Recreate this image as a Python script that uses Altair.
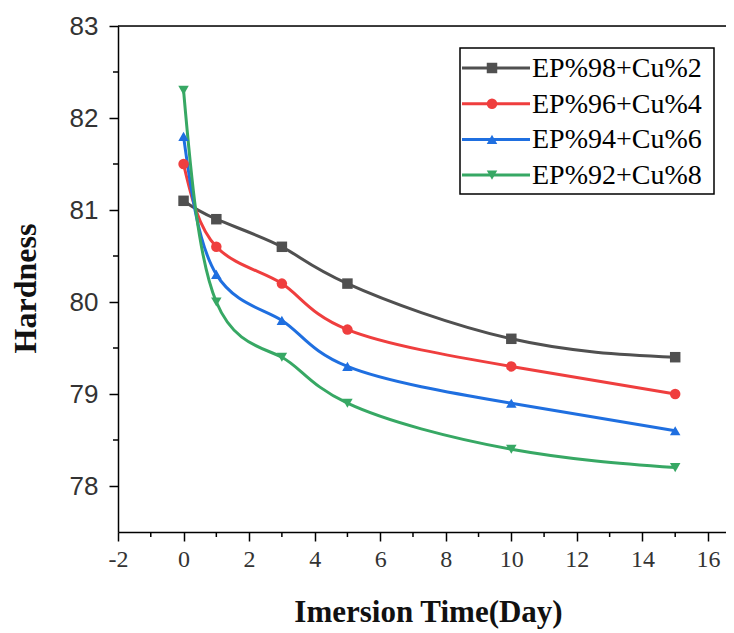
import altair as alt
import pandas as pd

# ---- data ----
days = [0, 1, 3, 5, 10, 15]
series_names = ["EP%98+Cu%2", "EP%96+Cu%4", "EP%94+Cu%6", "EP%92+Cu%8"]
hard_98 = [81.1, 80.9, 80.6, 80.2, 79.6, 79.4]
hard_96 = [81.5, 80.6, 80.2, 79.7, 79.3, 79.0]
hard_94 = [81.8, 80.3, 79.8, 79.3, 78.9, 78.6]
hard_92 = [82.3, 80.0, 79.4, 78.9, 78.4, 78.2]
x_major = [-2, 0, 2, 4, 6, 8, 10, 12, 14, 16]
x_minor = [-1, 1, 3, 5, 7, 9, 11, 13, 15]
y_major = [78, 79, 80, 81, 82, 83]
y_minor = [78.5, 79.5, 80.5, 81.5, 82.5]

colors = ["#505050", "#ef3e3e", "#1f6fe0", "#37a864"]
shapes = ["square", "circle", "triangle-up", "triangle-down"]

rows = []
for name, vals in zip(series_names, [hard_98, hard_96, hard_94, hard_92]):
    for d, v in zip(days, vals):
        rows.append({"series": name, "day": d, "hardness": v})
df = pd.DataFrame(rows)
leg_df = pd.DataFrame({"series": series_names, "i": list(range(len(series_names)))})

W, H = 608, 506
XDOM = [-2, 16.55]
YDOM = [77.5, 83]

color_scale = alt.Scale(domain=series_names, range=colors)
shape_scale = alt.Scale(domain=series_names, range=shapes)

xenc = alt.X("day:Q", scale=alt.Scale(domain=XDOM, nice=False, zero=False),
             axis=alt.Axis(values=x_major, title="Imersion Time(Day)", grid=False,
                           labelExpr="'' + datum.value",
                           tickSize=9, tickWidth=1.5, tickColor="black",
                           domainColor="black", domainWidth=1.5,
                           labelFont="Liberation Serif", labelFontSize=24, labelColor="#333333",
                           labelPadding=6, labelFlush=False,
                           titleFont="Liberation Serif", titleFontSize=31, titleFontWeight="bold",
                           titleColor="#111111", titleX=310, titleY=89, titleAlign="center",
                           titleBaseline="alphabetic"))
yenc = alt.Y("hardness:Q", scale=alt.Scale(domain=YDOM, nice=False, zero=False),
             axis=alt.Axis(values=y_major, title="Hardness", grid=False, format="d",
                           tickSize=9, tickWidth=1.5, tickColor="black",
                           domainColor="black", domainWidth=1.5,
                           labelFont="Liberation Sans", labelFontSize=26,
                           labelColor="#333333", labelPadding=11, labelFlush=False,
                           titleFont="Liberation Serif", titleFontSize=32, titleFontWeight="bold",
                           titleColor="#111111", titleX=-83, titleY=262, titleAlign="center",
                           titleBaseline="alphabetic", titleAngle=270))

base = alt.Chart(df)
lines = base.mark_line(interpolate="natural", strokeWidth=3).encode(
    x=xenc, y=yenc,
    color=alt.Color("series:N", scale=color_scale, legend=None),
    detail="series:N",
)
points = base.mark_point(filled=True, size=110, opacity=1).encode(
    x="day:Q", y="hardness:Q",
    color=alt.Color("series:N", scale=color_scale, legend=None),
    shape=alt.Shape("series:N", scale=shape_scale, legend=None),
)

xminor = alt.Chart(pd.DataFrame({"v": x_minor})).mark_rule(color="black", strokeWidth=1.5).encode(
    x="v:Q", y=alt.value(H), y2=alt.value(H + 5))
yminor = alt.Chart(pd.DataFrame({"v": y_minor})).mark_rule(color="black", strokeWidth=1.5).encode(
    y="v:Q", x=alt.value(0), x2=alt.value(-5))
top = alt.Chart(pd.DataFrame({"v": [0]})).mark_rule(color="black", strokeWidth=1.5).encode(
    x=alt.value(0), x2=alt.value(W), y=alt.value(0))

# legend box
box = alt.Chart(pd.DataFrame({"v": [0]})).mark_rect(fill="white", stroke="black", strokeWidth=1.5).encode(
    x=alt.value(342), x2=alt.value(596), y=alt.value(22), y2=alt.value(168))
leg = alt.Chart(leg_df).transform_calculate(ly="42 + datum.i * 35.7")
leg_line = leg.mark_rule(strokeWidth=3).encode(
    y=alt.Y("ly:Q", scale=None), x=alt.value(344), x2=alt.value(412),
    color=alt.Color("series:N", scale=color_scale, legend=None))
leg_pt = leg.mark_point(filled=True, size=110, opacity=1).encode(
    y=alt.Y("ly:Q", scale=None), x=alt.value(374),
    color=alt.Color("series:N", scale=color_scale, legend=None),
    shape=alt.Shape("series:N", scale=shape_scale, legend=None))
leg_txt = leg.mark_text(align="left", baseline="middle", font="Liberation Serif", fontSize=28,
                        color="black", dy=1).encode(
    y=alt.Y("ly:Q", scale=None), x=alt.value(414), text="series:N")

chart = alt.layer(lines, points, xminor, yminor, top, box, leg_line, leg_pt, leg_txt).properties(
    width=W, height=H,
    autosize=alt.AutoSizeParams(type="none"),
    padding={"left": 110, "top": 18, "right": 0, "bottom": 99},
).configure_view(stroke=None).configure(background="white")

chart.save("out.html", embed_options={"renderer": "svg", "actions": False})
